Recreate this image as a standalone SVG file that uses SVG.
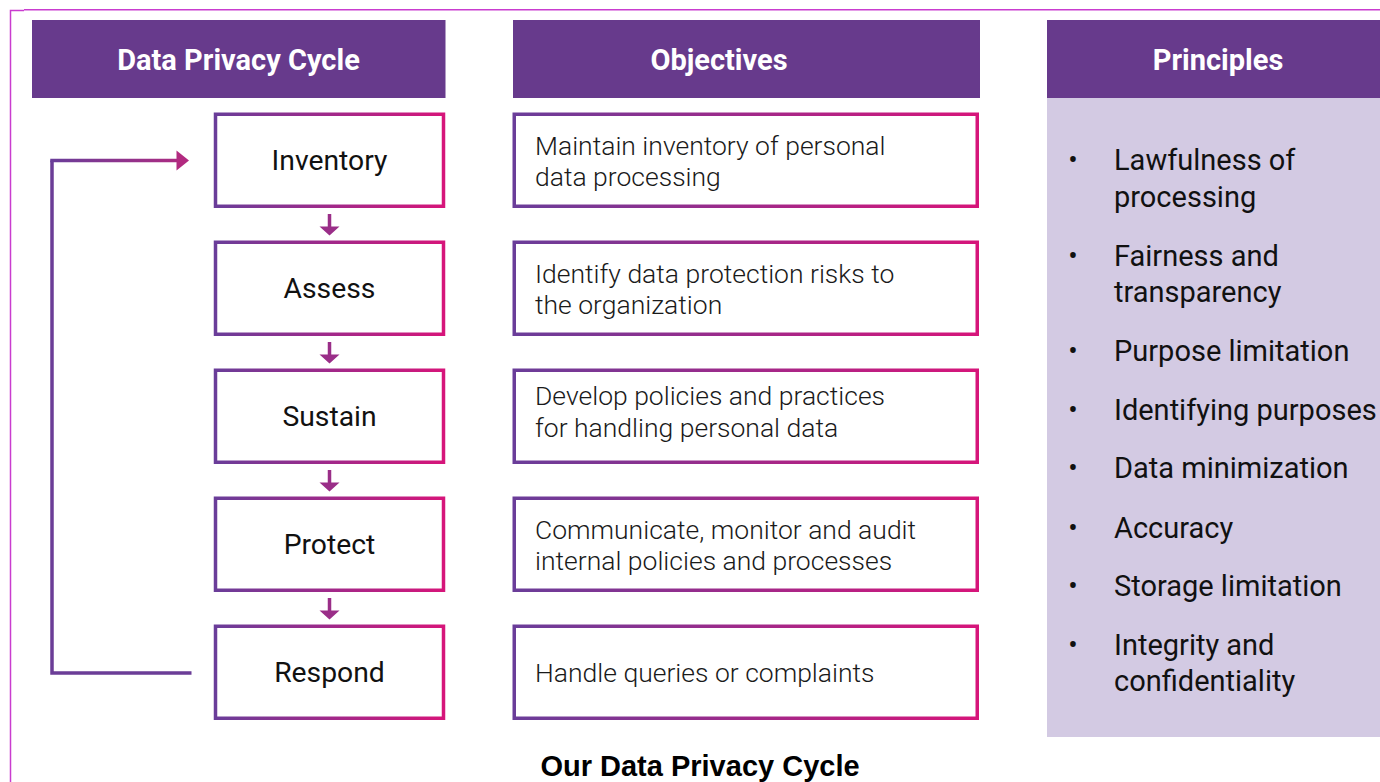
<svg xmlns="http://www.w3.org/2000/svg" width="1380" height="782" viewBox="0 0 1380 782">
<defs>
<linearGradient id="g" x1="0" y1="0" x2="1" y2="0">
<stop offset="0" stop-color="#6a3d99"/>
<stop offset="1" stop-color="#d6157a"/>
</linearGradient>
<linearGradient id="gl" gradientUnits="userSpaceOnUse" x1="52" y1="0" x2="190" y2="0">
<stop offset="0" stop-color="#6a3d99"/>
<stop offset="1" stop-color="#b22a80"/>
</linearGradient>
<style>
.hdr{fill:#673a8c}
.hdt{font-family:Roboto,"Liberation Sans",sans-serif;font-weight:700;font-size:29px;fill:#fff;text-anchor:middle}
.box{fill:#fff;stroke:url(#g);stroke-width:3.5}
.lbl{font-family:Roboto,"Liberation Sans",sans-serif;font-size:28.3px;fill:#111;text-anchor:middle}
.obj{font-family:Roboto,"Liberation Sans",sans-serif;font-weight:300;font-size:26.5px;fill:#1a1a1a}
.pr{font-family:Roboto,"Liberation Sans",sans-serif;font-size:29px;fill:#111}
.bu{font-family:Roboto,"Liberation Sans",sans-serif;font-size:28px;fill:#111;text-anchor:middle}
.arr{fill:#9a2e88}
</style>
</defs>
<path d="M10.5 782 V10.5 H24 M24 9.8 H1380" fill="none" stroke="#c93ccf" stroke-width="1.5"/>

<g id="header-cycle"><rect class="hdr" x="32" y="20" width="413.5" height="78"/><text class="hdt" x="238.5" y="70">Data Privacy Cycle</text></g>
<g id="header-objectives"><rect class="hdr" x="513" y="20" width="467" height="78"/><text class="hdt" x="719" y="70">Objectives</text></g>
<g id="header-principles"><rect class="hdr" x="1047" y="20" width="333" height="78"/><text class="hdt" x="1218" y="70">Principles</text></g>

<g id="principles-panel">
<rect x="1047" y="98" width="333" height="639" fill="#d3cae3"/>
<text class="bu" x="1073" y="169">•</text><text class="pr" x="1114" y="170">Lawfulness of</text><text class="pr" x="1114" y="207">processing</text>
<text class="bu" x="1073" y="265">•</text><text class="pr" x="1114" y="266">Fairness and</text><text class="pr" x="1114" y="302">transparency</text>
<text class="bu" x="1073" y="360">•</text><text class="pr" x="1114" y="361">Purpose limitation</text>
<text class="bu" x="1073" y="419">•</text><text class="pr" x="1114" y="420">Identifying purposes</text>
<text class="bu" x="1073" y="477">•</text><text class="pr" x="1114" y="478">Data minimization</text>
<text class="bu" x="1073" y="537">•</text><text class="pr" x="1114" y="538">Accuracy</text>
<text class="bu" x="1073" y="595">•</text><text class="pr" x="1114" y="596">Storage limitation</text>
<text class="bu" x="1073" y="654">•</text><text class="pr" x="1114" y="655">Integrity and</text><text class="pr" x="1114" y="691">confidentiality</text>
</g>

<g id="inventory"><rect class="box" x="215.5" y="114.25" width="228" height="92"/><text class="lbl" x="329.5" y="170">Inventory</text></g>
<g id="assess"><rect class="box" x="215.5" y="242.25" width="228" height="92"/><text class="lbl" x="329.5" y="298">Assess</text></g>
<g id="sustain"><rect class="box" x="215.5" y="370.25" width="228" height="92"/><text class="lbl" x="329.5" y="426">Sustain</text></g>
<g id="protect"><rect class="box" x="215.5" y="498.25" width="228" height="92"/><text class="lbl" x="329.5" y="554">Protect</text></g>
<g id="respond"><rect class="box" x="215.5" y="626.25" width="228" height="92"/><text class="lbl" x="329.5" y="682">Respond</text></g>

<g id="obj-inventory"><rect class="box" x="514.25" y="114.25" width="463" height="92"/><text class="obj" x="535" y="155">Maintain inventory of personal</text><text class="obj" x="535" y="186">data processing</text></g>
<g id="obj-assess"><rect class="box" x="514.25" y="242.25" width="463" height="92"/><text class="obj" x="535" y="283">Identify data protection risks to</text><text class="obj" x="535" y="314">the organization</text></g>
<g id="obj-sustain"><rect class="box" x="514.25" y="370.25" width="463" height="92"/><text class="obj" x="535" y="405">Develop policies and practices</text><text class="obj" x="535" y="437">for handling personal data</text></g>
<g id="obj-protect"><rect class="box" x="514.25" y="498.25" width="463" height="92"/><text class="obj" x="535" y="539">Communicate, monitor and audit</text><text class="obj" x="535" y="570">internal policies and processes</text></g>
<g id="obj-respond"><rect class="box" x="514.25" y="626.25" width="463" height="92"/><text class="obj" x="535" y="682">Handle queries or complaints</text></g>

<g id="connectors">
<path class="arr" d="M327.75 214 H331.25 V226.5 H339.5 L329.5 235.5 L319.5 226.5 H327.75 Z"/>
<path class="arr" d="M327.75 342 H331.25 V354.5 H339.5 L329.5 363.5 L319.5 354.5 H327.75 Z"/>
<path class="arr" d="M327.75 470 H331.25 V482.5 H339.5 L329.5 491.5 L319.5 482.5 H327.75 Z"/>
<path class="arr" d="M327.75 598 H331.25 V610.5 H339.5 L329.5 619.5 L319.5 610.5 H327.75 Z"/>
<path d="M191.5 673 H52 V160.5" fill="none" stroke="#6b3d97" stroke-width="3.5"/>
<path d="M50.25 160.5 H178" fill="none" stroke="url(#gl)" stroke-width="3.5"/>
<path d="M176.5 150.5 L189 160.5 L176.5 170.5 Z" fill="#b22a80"/>
</g>

<text x="700" y="776" font-family="'Liberation Sans',Arial,sans-serif" font-weight="700" font-size="29" fill="#000" text-anchor="middle">Our Data Privacy Cycle</text>
</svg>
